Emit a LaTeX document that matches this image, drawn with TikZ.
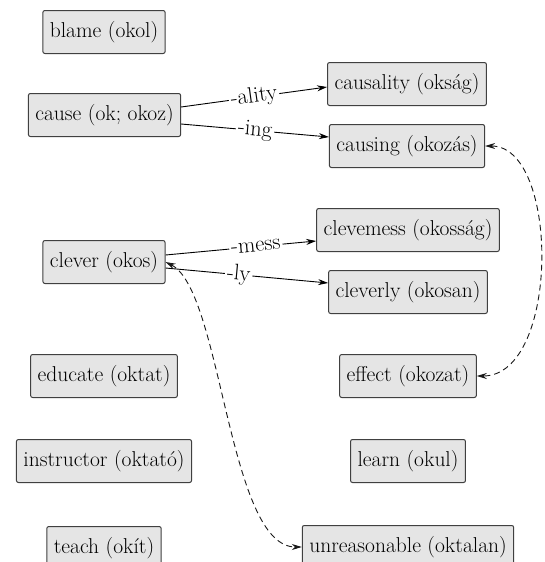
\documentclass[tikz,border=0pt]{standalone}
\usetikzlibrary{arrows.meta}
\begin{document}
\begin{tikzpicture}[x=1pt,y=-1pt,
  box/.style={draw=black!75, fill=black!10, rounded corners=2pt, inner xsep=7pt,
    minimum height=43pt, font=\fontsize{21.5}{24}\selectfont, line width=1pt},
  arr/.style={draw=black, line width=0.9pt, -{Stealth[length=10pt,width=6pt]}},
  darr/.style={draw=black!90, line width=0.9pt, dash pattern=on 6pt off 4pt,
    {Stealth[length=10pt,width=6pt]}-{Stealth[length=10pt,width=6pt]}},
  lbl/.style={fill=white, sloped, inner sep=2pt, font=\fontsize{22.5}{24}\selectfont}]
\useasboundingbox (0,0) rectangle (544,562);
\node[box] (blame) at (104,32) {blame (okol)};
\node[box] (cause) at (104.5,115) {cause (ok; okoz)};
\node[box] (causality) at (407,84) {causality (okság)};
\node[box] (causing) at (407,146) {causing (okozás)};
\node[box] (clevemess) at (408,230) {clevemess (okosság)};
\node[box] (clever) at (104,262) {clever (okos)};
\node[box] (cleverly) at (408,292) {cleverly (okosan)};
\node[box] (educate) at (104,376) {educate (oktat)};
\node[box] (effect) at (408,376) {effect (okozat)};
\node[box] (instructor) at (104,461) {instructor (oktató)};
\node[box] (learn) at (408,461) {learn (okul)};
\node[box] (teach) at (104,548) {teach (okít)};
\node[box] (unreasonable) at (408,547) {unreasonable (oktalan)};

\draw[arr] ([yshift=8pt]cause.east) -- node[lbl]{-ality} ([yshift=-3pt]causality.west);
\draw[arr] ([yshift=-9pt]cause.east) -- node[lbl]{-ing} ([yshift=9pt]causing.west);
\draw[arr] ([yshift=7pt]clever.east) -- node[lbl,pos=0.6]{-mess} ([yshift=-11pt]clevemess.west);
\draw[arr] ([yshift=-6pt]clever.east) -- node[lbl,pos=0.45]{-ly} ([yshift=9pt]cleverly.west);

\draw[darr] (causing.east) .. controls (560,146) and (560,376) .. (effect.east);
\draw[darr] (clever.east) .. controls (222,290) and (228,547) .. (unreasonable.west);
\end{tikzpicture}
\end{document}
